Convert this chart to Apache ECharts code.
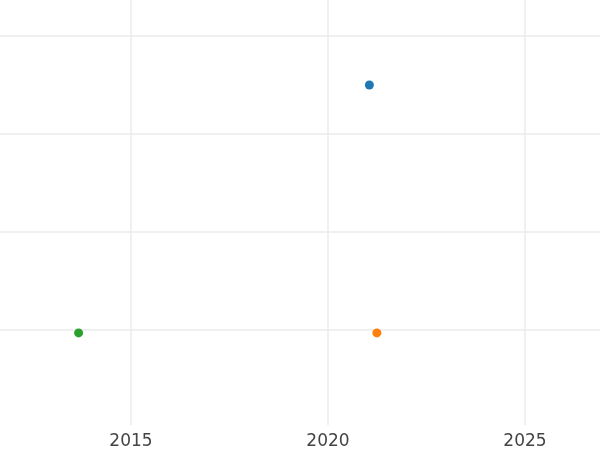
<!DOCTYPE html>
<html>
<head>
<meta charset="utf-8">
<script src="https://cdn.jsdelivr.net/npm/echarts@6/dist/echarts.min.js"></script>
<style>html,body{margin:0;padding:0;background:#fff}#c{width:600px;height:450px}</style>
</head>
<body>
<div id="c"></div>
<script>
// x tick labels shown
var xTicks = [2015, 2020, 2025];
// series: [year, value]
var seriesNames = ['A', 'B', 'C'];
var seriesColors = ['#1f77b4', '#ff7f0e', '#2ca02c'];
var blueData = [[2021.05, 2.50]];
var orangeData = [[2021.24, -0.03]];
var greenData = [[2013.67, -0.03]];
// y gridline values
var yTicks = [0, 1, 2, 3];

var chart = echarts.init(document.getElementById('c'), null, {renderer: 'canvas'});
var gridColor = '#ebebeb';
chart.setOption({
  animation: false,
  backgroundColor: '#ffffff',
  grid: [
    {left: -66, right: -122, top: 0, bottom: 25, containLabel: false, outerBoundsMode: 'none'},
    {left: 0, right: 0, top: -62, bottom: 120, containLabel: false, outerBoundsMode: 'none'}
  ],
  xAxis: [
    {
      type: 'value', gridIndex: 0, min: 2010, max: 2030, interval: 5,
      axisLine: {show: false}, axisTick: {show: false},
      axisLabel: {show: true, color: '#444444', fontSize: 17, fontFamily: 'DejaVu Sans', margin: 8,
        formatter: function (v) { return xTicks.indexOf(v) >= 0 ? String(v) : ''; }},
      splitLine: {show: true, lineStyle: {color: gridColor, width: 1.5}}
    },
    {type: 'value', gridIndex: 1, min: 0, max: 1, show: false, splitLine: {show: false}}
  ],
  yAxis: [
    {type: 'value', gridIndex: 0, min: -95 / 98, max: 330 / 98, show: false, splitLine: {show: false}},
    {
      type: 'value', gridIndex: 1, min: 0, max: 4, interval: 1,
      axisLine: {show: false}, axisTick: {show: false}, axisLabel: {show: false},
      splitLine: {show: true, lineStyle: {color: gridColor, width: 1.5}}
    }
  ],
  series: [
    {name: seriesNames[0], type: 'scatter', xAxisIndex: 0, yAxisIndex: 0, data: blueData, symbolSize: 9, itemStyle: {color: seriesColors[0], opacity: 1}},
    {name: seriesNames[1], type: 'scatter', xAxisIndex: 0, yAxisIndex: 0, data: orangeData, symbolSize: 9, itemStyle: {color: seriesColors[1], opacity: 1}},
    {name: seriesNames[2], type: 'scatter', xAxisIndex: 0, yAxisIndex: 0, data: greenData, symbolSize: 9, itemStyle: {color: seriesColors[2], opacity: 1}}
  ]
});
</script>
</body>
</html>
